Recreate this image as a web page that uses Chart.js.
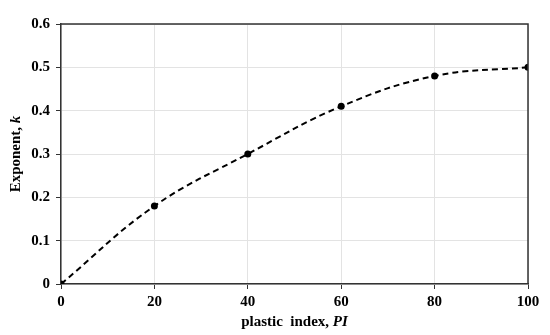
<!DOCTYPE html>
<html>
<head>
<meta charset="utf-8">
<script src="https://cdn.jsdelivr.net/npm/chart.js@4"></script>
<style>
  html, body { margin: 0; padding: 0; background: #fff; }
  #wrap { width: 550px; height: 335px; }
</style>
</head>
<body>
<div id="wrap"><canvas id="chart"></canvas></div>
<script>
const plasticIndex = [0, 20, 40, 60, 80, 100];
const exponentK    = [0, 0.18, 0.30, 0.41, 0.48, 0.50];

const serif = '"Liberation Serif", "Times New Roman", serif';

// axis titles with italic symbols, frame on top/right
const titlesPlugin = {
  id: 'titles',
  afterDraw(chart) {
    const { ctx, chartArea: a } = chart;
    ctx.save();
    ctx.fillStyle = '#000';
    ctx.textBaseline = 'middle';

    // frame
    ctx.strokeStyle = '#333';
    ctx.lineWidth = 1.5;
    ctx.beginPath();
    ctx.moveTo(a.left, a.top);
    ctx.lineTo(a.right, a.top);
    ctx.lineTo(a.right, a.bottom);
    ctx.stroke();

    const drawParts = (parts, cx, cy, rotate) => {
      ctx.save();
      ctx.translate(cx, cy);
      if (rotate) ctx.rotate(-Math.PI / 2);
      let total = 0;
      parts.forEach(p => { ctx.font = p.font; total += ctx.measureText(p.text).width; });
      let x = -total / 2;
      ctx.textAlign = 'left';
      parts.forEach(p => { ctx.font = p.font; ctx.fillText(p.text, x, 0); x += ctx.measureText(p.text).width; });
      ctx.restore();
    };

    const b = 'bold 15px ' + serif;
    const bi = 'italic bold 15px ' + serif;
    drawParts([{ text: 'plastic  index, ', font: b }, { text: 'PI', font: bi }], (a.left + a.right) / 2, 322, false);
    drawParts([{ text: 'Exponent, ', font: b }, { text: 'k', font: bi }], 16, (a.top + a.bottom) / 2, true);
    ctx.restore();
  }
};

new Chart(document.getElementById('chart'), {
  type: 'line',
  data: {
    labels: plasticIndex,
    datasets: [{
      data: plasticIndex.map((x, i) => ({ x, y: exponentK[i] })),
      borderColor: '#000',
      backgroundColor: '#000',
      borderWidth: 2,
      borderDash: [6, 4],
      tension: 0.4,
      pointRadius: 3.5,
      pointBackgroundColor: '#000',
      pointBorderWidth: 0
    }]
  },
  options: {
    responsive: true,
    maintainAspectRatio: false,
    animation: false,
    layout: { padding: { left: 0, right: 22, top: 24, bottom: 0 } },
    plugins: { legend: { display: false }, tooltip: { enabled: false } },
    scales: {
      x: {
        type: 'linear',
        min: 0, max: 100,
        ticks: { stepSize: 20, color: '#000', padding: 4, font: { family: serif, size: 15, weight: 'bold' } },
        grid: { color: '#e3e3e3', tickColor: '#333', tickLength: 5 },
        border: { color: '#333', width: 1.5 },
        afterFit(s) { s.height = 51; }
      },
      y: {
        min: 0, max: 0.6,
        ticks: { stepSize: 0.1, color: '#000', padding: 6, font: { family: serif, size: 15, weight: 'bold' },
                 callback: v => Math.round(v * 10) / 10 },
        grid: { color: '#e3e3e3', tickColor: '#333', tickLength: 5 },
        border: { color: '#333', width: 1.5 },
        afterFit(s) { s.width = 61; }
      }
    }
  },
  plugins: [titlesPlugin]
});
</script>
</body>
</html>
